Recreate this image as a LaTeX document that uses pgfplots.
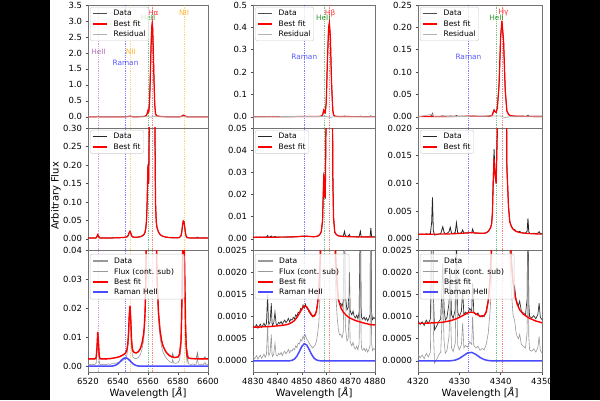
\documentclass[border=0pt]{standalone}
\usepackage{fontspec}
\setmainfont{DejaVu Sans}
\usepackage{pgfplots}
\usepackage{pgfplotstable}
\pgfplotsset{compat=1.18}

% ---------------- Column 1 (H-alpha) ----------------
\pgfplotstableread{
x y
6520 0.0025
6522 0.0025
6524 0.0025
6525 0.0026
6525.5 0.0032
6526 0.0065
6526.5 0.0118
6527 0.0080
6527.5 0.0035
6528 0.0026
6530 0.0025
6532 0.0025
6534 0.0026
6536 0.0027
6538 0.0029
6540 0.0031
6542 0.0035
6543 0.0038
6544 0.0041
6545 0.0045
6546 0.0058
6546.5 0.0075
6547 0.0110
6547.5 0.0175
6548 0.0208
6548.5 0.0165
6549 0.0095
6549.5 0.0062
6550 0.0052
6551 0.0047
6552 0.0046
6553 0.0048
6554 0.0053
6555 0.0062
6556 0.0079
6557 0.0108
6557.5 0.0135
6558 0.0180
6558.5 0.0280
6559 0.050
6559.5 0.110
6559.8 0.170
6560 0.198
6560.2 0.165
6560.4 0.150
6560.7 0.230
6561 0.450
6561.5 1.150
6562 2.150
6562.5 2.800
6562.8 2.920
6563.1 2.780
6563.5 2.150
6564 1.150
6564.5 0.380
6565 0.100
6565.5 0.046
6566 0.031
6567 0.0185
6568 0.0125
6569 0.0090
6570 0.0070
6572 0.0049
6574 0.0038
6576 0.0032
6578 0.0030
6580 0.0032
6581 0.0041
6582 0.0085
6582.5 0.0190
6583 0.0360
6583.5 0.0485
6584 0.0470
6584.5 0.0320
6585 0.0150
6585.5 0.0065
6586 0.0036
6587 0.0028
6590 0.0026
6595 0.0025
6600 0.0025
}\fitA

\pgfplotstableread{
x d s
6520 0.0026 0.0007
6521 0.0024 0.0005
6522 0.0025 0.0006
6523 0.0026 0.0007
6524 0.0024 0.0005
6525 0.0027 0.0008
6525.5 0.0030 0.0011
6526 0.0070 0.0051
6526.5 0.0115 0.0096
6527 0.0078 0.0059
6527.5 0.0034 0.0015
6528 0.0025 0.0006
6529 0.0024 0.0005
6530 0.0026 0.0007
6531 0.0025 0.0006
6532 0.0024 0.0005
6533 0.0026 0.0007
6534 0.0027 0.0008
6535 0.0025 0.0006
6536 0.0028 0.0009
6537 0.0027 0.0008
6538 0.0030 0.0011
6539 0.0029 0.0010
6540 0.0032 0.0013
6541 0.0033 0.0014
6542 0.0036 0.0017
6543 0.0037 0.0018
6544 0.0042 0.0023
6545 0.0044 0.0025
6546 0.0060 0.0041
6546.5 0.0078 0.0059
6547 0.0115 0.0096
6547.5 0.0180 0.0161
6548 0.0205 0.0186
6548.5 0.0160 0.0141
6549 0.0090 0.0071
6549.5 0.0060 0.0041
6550 0.0050 0.0031
6551 0.0046 0.0027
6552 0.0045 0.0026
6553 0.0047 0.0028
6554 0.0052 0.0033
6555 0.0060 0.0041
6556 0.0078 0.0059
6557 0.0105 0.0086
6557.5 0.0132 0.0113
6558 0.0178 0.0159
6558.5 0.0275 0.0256
6559 0.0480 0.0461
6559.5 0.1080 0.1061
6559.8 0.1800 0.1781
6560 0.2020 0.2001
6560.2 0.1620 0.1601
6560.4 0.1480 0.1461
6560.7 0.2400 0.2381
6561 0.4600 0.4581
6561.5 1.1600 1.1581
6562 2.1700 2.1681
6562.5 2.8200 2.8181
6562.8 2.9300 2.9281
6563.1 2.7700 2.7681
6563.5 2.1400 2.1381
6564 1.1400 1.1381
6564.5 0.3700 0.3681
6565 0.0980 0.0961
6565.5 0.0470 0.0451
6566 0.0300 0.0281
6567 0.0180 0.0161
6568 0.0120 0.0101
6569 0.0088 0.0069
6570 0.0068 0.0049
6571 0.0057 0.0038
6572 0.0048 0.0029
6573 0.0042 0.0023
6574 0.0037 0.0018
6575 0.0033 0.0014
6576 0.0031 0.0012
6576.5 0.0043 0.0024
6577 0.0030 0.0011
6578 0.0029 0.0010
6579 0.0030 0.0011
6580 0.0031 0.0012
6581 0.0040 0.0021
6582 0.0082 0.0063
6582.5 0.0185 0.0166
6583 0.0355 0.0336
6583.5 0.0480 0.0461
6584 0.0468 0.0449
6584.5 0.0318 0.0299
6585 0.0148 0.0129
6585.5 0.0063 0.0044
6586 0.0034 0.0015
6586.4 0.0050 0.0031
6587 0.0027 0.0008
6588 0.0026 0.0007
6589 0.0025 0.0006
6590 0.0027 0.0008
6591 0.0025 0.0006
6592 0.0024 0.0005
6593 0.0045 0.0026
6593.5 0.0026 0.0007
6594 0.0025 0.0006
6595 0.0026 0.0007
6596 0.0024 0.0005
6597 0.0025 0.0006
6598 0.0032 0.0013
6598.5 0.0025 0.0006
6599 0.0026 0.0007
6600 0.0025 0.0006
}\dataA

\pgfplotstableread{
x y
6520 0
6534 0
6535 0.000022
6536 0.000055
6537 0.000127
6538 0.000265
6539 0.00050
6540 0.00086
6541 0.00133
6542 0.00187
6543 0.00239
6544 0.00276
6545 0.00290
6546 0.00276
6547 0.00239
6548 0.00187
6549 0.00133
6550 0.00086
6551 0.00050
6552 0.000265
6553 0.000127
6554 0.000055
6555 0.000022
6556 0
6600 0
}\ramA

% ---------------- Column 2 (H-beta) ----------------
\pgfplotstableread{
x y
4830 0.00076
4832 0.00076
4834 0.00077
4836 0.00077
4838 0.00078
4840 0.00079
4842 0.00080
4844 0.00082
4845 0.00084
4846 0.00087
4847 0.00091
4848 0.00098
4849 0.00107
4850 0.00117
4851 0.00124
4852 0.00122
4853 0.00113
4854 0.00104
4854.5 0.00101
4855 0.00101
4855.5 0.00104
4856 0.00112
4856.5 0.00130
4857 0.00160
4857.5 0.00220
4858 0.00330
4858.5 0.0080
4858.8 0.0200
4859 0.0290
4859.3 0.0210
4859.6 0.0185
4860 0.0600
4860.5 0.2500
4861 0.4000
4861.3 0.4200
4861.7 0.3600
4862.2 0.1500
4862.7 0.0300
4863 0.0100
4863.5 0.0031
4864 0.0022
4864.5 0.00170
4865 0.00138
4866 0.00120
4867 0.00110
4868 0.00104
4869 0.00099
4870 0.00096
4872 0.00091
4875 0.00086
4878 0.00082
4880 0.00081
}\fitB

\pgfplotstableread{
x d s
4830 0.00080 0.00010
4830.5 0.00075 0.00005
4831 0.00078 0.00008
4831.5 0.00082 0.00012
4832 0.00074 0.00004
4832.5 0.00079 0.00009
4833 0.00083 0.00013
4833.5 0.00076 0.00006
4834 0.00080 0.00010
4834.5 0.00085 0.00015
4835 0.00078 0.00008
4835.5 0.00084 0.00014
4836 0.00150 0.00080
4836.3 0.00090 0.00020
4836.5 0.00082 0.00012
4837 0.00088 0.00018
4837.5 0.00130 0.00060
4837.8 0.00085 0.00015
4838 0.00080 0.00010
4838.5 0.00086 0.00016
4839 0.00110 0.00040
4839.5 0.00083 0.00013
4840 0.00081 0.00011
4840.5 0.00087 0.00017
4841 0.00084 0.00014
4841.5 0.00089 0.00019
4842 0.00082 0.00012
4842.5 0.00088 0.00018
4843 0.00092 0.00022
4843.5 0.00086 0.00016
4844 0.00090 0.00020
4844.5 0.00096 0.00026
4845 0.00088 0.00018
4845.5 0.00094 0.00024
4846 0.00092 0.00022
4846.5 0.00098 0.00028
4847 0.00095 0.00025
4847.5 0.00104 0.00034
4848 0.00100 0.00030
4848.5 0.00110 0.00040
4849 0.00108 0.00038
4849.5 0.00118 0.00048
4850 0.00115 0.00045
4850.5 0.00126 0.00056
4851 0.00120 0.00050
4851.5 0.00128 0.00058
4852 0.00119 0.00049
4852.5 0.00116 0.00046
4853 0.00110 0.00040
4853.5 0.00106 0.00036
4854 0.00102 0.00032
4854.5 0.00099 0.00029
4855 0.00103 0.00033
4855.5 0.00106 0.00036
4856 0.00114 0.00044
4856.5 0.00132 0.00062
4857 0.00158 0.00088
4857.5 0.00225 0.00155
4858 0.00340 0.00270
4858.5 0.0085 0.0078
4858.8 0.0210 0.0203
4859 0.0300 0.0293
4859.3 0.0200 0.0193
4859.6 0.0180 0.0173
4860 0.0620 0.0613
4860.5 0.2550 0.2543
4861 0.4050 0.4043
4861.3 0.4180 0.4173
4861.7 0.3550 0.3543
4862.2 0.1450 0.1443
4862.7 0.0290 0.0283
4863 0.0095 0.0088
4863.5 0.0030 0.0023
4864 0.00215 0.00145
4864.5 0.00168 0.00098
4865 0.00140 0.00070
4865.5 0.00128 0.00058
4866 0.00130 0.00060
4866.5 0.00122 0.00052
4867 0.00135 0.00065
4867.5 0.00340 0.00270
4867.8 0.00160 0.00090
4868 0.00140 0.00070
4868.5 0.00115 0.00045
4869 0.00120 0.00050
4869.5 0.00200 0.00130
4869.8 0.00115 0.00045
4870 0.00110 0.00040
4870.5 0.00104 0.00034
4871 0.00112 0.00042
4871.5 0.00100 0.00030
4872 0.00097 0.00027
4872.5 0.00103 0.00033
4873 0.00095 0.00025
4873.5 0.00110 0.00040
4874 0.00340 0.00270
4874.3 0.00120 0.00050
4874.5 0.00098 0.00028
4875 0.00094 0.00024
4875.5 0.00099 0.00029
4876 0.00092 0.00022
4876.5 0.00097 0.00027
4877 0.00090 0.00020
4877.5 0.00096 0.00026
4878 0.00105 0.00035
4878.3 0.00480 0.00410
4878.6 0.00110 0.00040
4879 0.00093 0.00023
4879.5 0.00098 0.00028
4880 0.00095 0.00025
}\dataB

\pgfplotstableread{
x y
4830 0
4844 0
4845 0.000003
4846 0.000013
4847 0.000043
4848 0.000108
4849 0.000213
4850 0.000326
4851 0.000388
4852 0.000360
4853 0.000260
4854 0.000146
4855 0.000064
4856 0.000022
4857 0.000006
4858 0
4880 0
}\ramB

% ---------------- Column 3 (H-gamma) ----------------
\pgfplotstableread{
x y
4320 0.00085
4322 0.00085
4324 0.00086
4326 0.00087
4327 0.00089
4328 0.00091
4329 0.00094
4330 0.00098
4331 0.00103
4332 0.00108
4332.7 0.00110
4333.5 0.00109
4334 0.00106
4335 0.00101
4335.5 0.00100
4336 0.00102
4336.5 0.00110
4337 0.00135
4337.5 0.00190
4337.8 0.00260
4338 0.0045
4338.2 0.0100
4338.4 0.0145
4338.6 0.0120
4338.9 0.0100
4339.2 0.0200
4339.6 0.0700
4340 0.1800
4340.3 0.2150
4340.7 0.1700
4341.1 0.0600
4341.5 0.0130
4341.9 0.0057
4342.2 0.0031
4342.6 0.0022
4343 0.00175
4343.5 0.00145
4344 0.00128
4344.6 0.00115
4345.5 0.00105
4347 0.00096
4348.5 0.00090
4350 0.00086
}\fitC

\pgfplotstableread{
x d s
4320 0.00090 0.00015
4320.5 0.00082 0.00007
4321 0.00088 0.00013
4321.5 0.00080 0.00005
4322 0.00092 0.00017
4322.5 0.00084 0.00009
4323 0.00095 0.00020
4323.3 0.00300 0.00225
4323.5 0.00750 0.00675
4323.7 0.00150 0.00075
4324 0.00070 -0.00005
4324.5 0.00078 0.00003
4325 0.00088 0.00013
4325.5 0.00095 0.00020
4326 0.00220 0.00145
4326.3 0.00120 0.00045
4326.6 0.00092 0.00017
4327 0.00098 0.00023
4327.5 0.00130 0.00055
4327.8 0.00210 0.00135
4328.1 0.00105 0.00030
4328.5 0.00096 0.00021
4329 0.00115 0.00040
4329.3 0.00290 0.00215
4329.6 0.00110 0.00035
4330 0.00100 0.00025
4330.5 0.00112 0.00037
4330.8 0.00160 0.00085
4331.1 0.00104 0.00029
4331.5 0.00110 0.00035
4332 0.00106 0.00031
4332.5 0.00118 0.00043
4333 0.00112 0.00037
4333.2 0.00175 0.00100
4333.5 0.00110 0.00035
4334 0.00104 0.00029
4334.5 0.00108 0.00033
4335 0.00099 0.00024
4335.5 0.00103 0.00028
4336 0.00100 0.00025
4336.5 0.00112 0.00037
4337 0.00138 0.00063
4337.5 0.00195 0.00120
4337.8 0.00270 0.00195
4338 0.0048 0.00405
4338.2 0.0110 0.01025
4338.4 0.0162 0.01545
4338.6 0.0125 0.01175
4338.9 0.0100 0.00925
4339.2 0.0205 0.01975
4339.6 0.0710 0.07025
4340 0.1820 0.18125
4340.3 0.2130 0.21225
4340.7 0.1690 0.16825
4341.1 0.0590 0.05825
4341.5 0.0128 0.01205
4341.9 0.0058 0.00505
4342.2 0.0032 0.00245
4342.6 0.0023 0.00155
4343 0.00178 0.00103
4343.4 0.00165 0.00090
4343.7 0.00140 0.00065
4344 0.00130 0.00055
4344.3 0.00125 0.00050
4344.6 0.00135 0.00060
4345 0.00112 0.00037
4345.5 0.00108 0.00033
4346 0.00104 0.00029
4346.4 0.00140 0.00065
4346.6 0.00370 0.00295
4346.8 0.00130 0.00055
4347 0.00100 0.00025
4347.5 0.00097 0.00022
4348 0.00102 0.00027
4348.5 0.00095 0.00020
4349 0.00105 0.00030
4349.3 0.00130 0.00055
4349.6 0.00098 0.00023
4350 0.00093 0.00018
}\dataC

\pgfplotstableread{
x y
4320 0
4326 0
4327 0.000001
4328 0.000004
4329 0.000018
4330 0.000055
4331 0.000118
4332 0.000179
4333 0.000192
4334 0.000146
4335 0.000078
4336 0.000030
4337 0.000008
4338 0
4350 0
}\ramC

\definecolor{mplpurple}{HTML}{A050A8}
\definecolor{mplorange}{HTML}{FFA500}
\definecolor{mplgreen}{HTML}{008000}
\definecolor{mplblue}{HTML}{3030FF}
\definecolor{ramblue}{HTML}{4A4AFF}

\newcommand{\vl}[2]{\draw[#1, dash pattern=on 0.7bp off 1.1bp, line width=0.6bp, opacity=0.5] ({axis cs:#2,0}|-{rel axis cs:0,0}) -- ({axis cs:#2,0}|-{rel axis cs:0,1});}
\newcommand{\linesA}{\vl{mplpurple}{6526.9}\vl{blue}{6544.9}\vl{mplorange}{6548}\vl{mplgreen}{6560.2}\vl{red}{6563.1}\vl{mplorange}{6584}}
\newcommand{\linesB}{\vl{blue}{4851}\vl{mplgreen}{4859.2}\vl{red}{4861.4}}
\newcommand{\linesC}{\vl{blue}{4332.2}\vl{mplgreen}{4338.9}\vl{red}{4340.5}}

\tikzset{lab/.style={font=\fontsize{7.4}{8}\selectfont, text opacity=0.8},
  legtxt/.style={anchor=base west, inner sep=0pt, font=\fontsize{7.6}{8.5}\selectfont}}

% manual legend for bottom row (x0 = left edge of the axis)
\newcommand{\legthree}[1]{%
  \begin{scope}[shift={(#1,0)}]
  \filldraw[fill=white, fill opacity=0.8, draw=black!20, draw opacity=1, rounded corners=2bp, line width=0.5bp] (2,146) rectangle (96,101);
  \draw[black!40, line width=1.8bp] (5,139) -- (20,139);
  \draw[black!40, line width=0.7bp] (5,128.5) -- (20,128.5);
  \draw[red, line width=1.5bp] (5,118) -- (20,118);
  \draw[ramblue, line width=1.8bp] (5,108) -- (20,108);
  \node[legtxt] at (26,136.3) {Data};
  \node[legtxt] at (26,125.8) {Flux (cont. sub)};
  \node[legtxt] at (26,115.3) {Best fit};
  \node[legtxt] at (26,105.3) {Raman HeII};
  \end{scope}}

\pgfplotsset{
  panel/.style={
    scale only axis, anchor=south west,
    axis line style={black!55, line width=0.6bp},
    tick align=outside, xtick pos=bottom, ytick pos=left,
    major tick length=2.5bp,
    every tick/.style={black!70, line width=0.6bp},
    tick label style={font=\fontsize{8.5}{10}\selectfont},
    /pgf/number format/assume math mode=true,
    /pgf/number format/set thousands separator={},
    scaled ticks=false,
    legend cell align=left,
    legend image code/.code={\draw[##1] (0bp,0bp) -- (14bp,0bp);},
    legend style={at={(0,1)}, anchor=north west, xshift=2bp, yshift=-2bp,
      draw=black!20, fill=white, fill opacity=0.8, text opacity=1, rounded corners=2bp,
      font=\fontsize{7.6}{8.5}\selectfont,
      inner xsep=2bp, inner ysep=1.5bp,
      nodes={inner sep=1.2bp, text height=5.8bp, text depth=1.6bp},
      row sep=0.6bp,
      /tikz/every odd column/.append style={column sep=5bp}},
  },
  toprow/.style={xtick=\empty},
  yfmt/.style={yticklabel style={/pgf/number format/.cd, fixed, fixed zerofill, precision=#1}},
}

\begin{document}
\begin{tikzpicture}[x=1bp,y=1bp]
\fill[black] (0,0) rectangle (600,400);
\fill[white] (50,0) rectangle (550,400);
\useasboundingbox (0,0) rectangle (600,400);

% ===== Row 1 =====
\begin{axis}[panel, toprow, at={(88bp,272bp)}, width=120bp, height=123bp,
  xmin=6520, xmax=6600, ymin=-0.35, ymax=3.5,
  ytick={0,0.5,1,1.5,2,2.5,3,3.5}, yfmt=1]
\linesA
\addplot[black!70, line width=0.8bp] table[x=x,y=d]{\dataA}; \addlegendentry{Data}
\addplot[red, line width=1.2bp] table[x=x,y=y]{\fitA}; \addlegendentry{Best fit}
\addplot[black!30, line width=0.8bp] coordinates {(6520,0)(6559,0.002)(6562,-0.012)(6564,0.01)(6566,0)(6600,0)}; \addlegendentry{Residual}
\node[lab, text=mplpurple] at (axis cs:6527,2.03) {HeII};
\node[lab, text=mplblue] at (axis cs:6545,1.69) {Raman};
\node[lab, text=mplorange] at (axis cs:6548.5,2.03) {NII};
\node[lab, text=red] at (axis cs:6563.5,3.25) {Hα};
\node[lab, text=mplgreen] at (axis cs:6560,3.09) {HeII};
\node[lab, text=mplorange] at (axis cs:6584,3.25) {NII};
\end{axis}

\begin{axis}[panel, toprow, at={(253bp,272bp)}, width=122bp, height=123bp,
  xmin=4830, xmax=4880, ymin=-0.05, ymax=0.5,
  ytick={0,0.1,0.2,0.3,0.4,0.5}, yfmt=1]
\linesB
\addplot[black!70, line width=0.8bp] table[x=x,y=d]{\dataB}; \addlegendentry{Data}
\addplot[red, line width=1.2bp] table[x=x,y=y]{\fitB}; \addlegendentry{Best fit}
\addplot[black!30, line width=0.8bp] coordinates {(4830,0)(4860,0.002)(4861.5,-0.003)(4863,0)(4880,0)}; \addlegendentry{Residual}
\node[lab, text=mplblue] at (axis cs:4851,0.267) {Raman};
\node[lab, text=red] at (axis cs:4861.6,0.464) {Hβ};
\node[lab, text=mplgreen] at (axis cs:4858.8,0.442) {HeII};
\end{axis}

\begin{axis}[panel, toprow, at={(418bp,272bp)}, width=124bp, height=123bp,
  xmin=4320, xmax=4350, ymin=-0.025, ymax=0.25,
  ytick={0,0.05,0.1,0.15,0.2,0.25}, yfmt=2]
\linesC
\addplot[black!70, line width=0.8bp] table[x=x,y=d]{\dataC}; \addlegendentry{Data}
\addplot[red, line width=1.2bp] table[x=x,y=y]{\fitC}; \addlegendentry{Best fit}
\addplot[black!30, line width=0.8bp] coordinates {(4320,0)(4323.5,0.006)(4324,0)(4340,0.002)(4341,-0.002)(4342,0)(4350,0)}; \addlegendentry{Residual}
\node[lab, text=mplblue] at (axis cs:4332.2,0.134) {Raman};
\node[lab, text=red] at (axis cs:4340.7,0.232) {Hγ};
\node[lab, text=mplgreen] at (axis cs:4339.0,0.221) {HeII};
\end{axis}

% ===== Row 2 =====
\begin{axis}[panel, toprow, at={(88bp,150bp)}, width=120bp, height=122bp,
  xmin=6520, xmax=6600, ymin=-0.03, ymax=0.30,
  restrict y to domain*=-0.5:1,
  ytick={0,0.05,0.1,0.15,0.2,0.25,0.3}, yfmt=2]
\linesA
\addplot[black!85, line width=0.8bp] table[x=x,y=d]{\dataA}; \addlegendentry{Data}
\addplot[red, line width=1.2bp] table[x=x,y=y]{\fitA}; \addlegendentry{Best fit}
\end{axis}

\begin{axis}[panel, toprow, at={(253bp,150bp)}, width=122bp, height=122bp,
  xmin=4830, xmax=4880, ymin=-0.005, ymax=0.05,
  restrict y to domain*=-0.1:0.2,
  ytick={0,0.01,0.02,0.03,0.04,0.05}, yfmt=2]
\linesB
\addplot[black!85, line width=0.8bp] table[x=x,y=d]{\dataB}; \addlegendentry{Data}
\addplot[red, line width=1.2bp] table[x=x,y=y]{\fitB}; \addlegendentry{Best fit}
\end{axis}

\begin{axis}[panel, toprow, at={(418bp,150bp)}, width=124bp, height=122bp,
  xmin=4320, xmax=4350, ymin=-0.002, ymax=0.02,
  restrict y to domain*=-0.04:0.08,
  ytick={0,0.005,0.01,0.015,0.02}, yfmt=3]
\linesC
\addplot[black!85, line width=0.8bp] table[x=x,y=d]{\dataC}; \addlegendentry{Data}
\addplot[red, line width=1.2bp] table[x=x,y=y]{\fitC}; \addlegendentry{Best fit}
\end{axis}

% ===== Row 3 =====
\begin{axis}[panel, at={(88bp,28bp)}, width=120bp, height=122bp,
  xmin=6520, xmax=6600, ymin=-0.002, ymax=0.04,
  restrict y to domain*=-0.05:0.15,
  xtick={6520,6540,6560,6580,6600},
  ytick={0,0.01,0.02,0.03,0.04}, yfmt=2]
\linesA
\addplot[black!50, line width=0.8bp] table[x=x,y=d]{\dataA};
\addplot[black!40, line width=0.6bp] table[x=x,y=s]{\dataA};
\addplot[red, line width=1.4bp] table[x=x,y=y]{\fitA};
\addplot[ramblue, line width=1.5bp] table[x=x,y=y]{\ramA};
\end{axis}

\begin{axis}[panel, at={(253bp,28bp)}, width=122bp, height=122bp,
  xmin=4830, xmax=4880, ymin=-0.00025, ymax=0.0025,
  restrict y to domain*=-0.005:0.01,
  xtick={4830,4840,4850,4860,4870,4880},
  ytick={0,0.0005,0.001,0.0015,0.002,0.0025}, yfmt=4]
\linesB
\addplot[black!80, line width=0.7bp] table[x=x,y=d]{\dataB};
\addplot[black!40, line width=0.6bp] table[x=x,y=s]{\dataB};
\addplot[red, line width=1.4bp] table[x=x,y=y]{\fitB};
\addplot[ramblue, line width=1.5bp] table[x=x,y=y]{\ramB};
\end{axis}

\begin{axis}[panel, at={(418bp,28bp)}, width=124bp, height=122bp,
  xmin=4320, xmax=4350, ymin=-0.00025, ymax=0.0025,
  restrict y to domain*=-0.005:0.01,
  xtick={4320,4330,4340,4350},
  ytick={0,0.0005,0.001,0.0015,0.002,0.0025}, yfmt=4]
\linesC
\addplot[black!80, line width=0.7bp] table[x=x,y=d]{\dataC};
\addplot[black!40, line width=0.6bp] table[x=x,y=s]{\dataC};
\addplot[red, line width=1.4bp] table[x=x,y=y]{\fitC};
\addplot[ramblue, line width=1.5bp] table[x=x,y=y]{\ramC};
\end{axis}

\legthree{88}
\legthree{253}
\legthree{418}

% labels
\node[rotate=90, font=\fontsize{10}{12}\selectfont] at (56,204) {Arbitrary Flux};
\node[font=\fontsize{10}{12}\selectfont] at (148,7.5) {Wavelength [\textit{Å}]};
\node[font=\fontsize{10}{12}\selectfont] at (314,7.5) {Wavelength [\textit{Å}]};
\node[font=\fontsize{10}{12}\selectfont] at (480,7.5) {Wavelength [\textit{Å}]};
\end{tikzpicture}
\end{document}
